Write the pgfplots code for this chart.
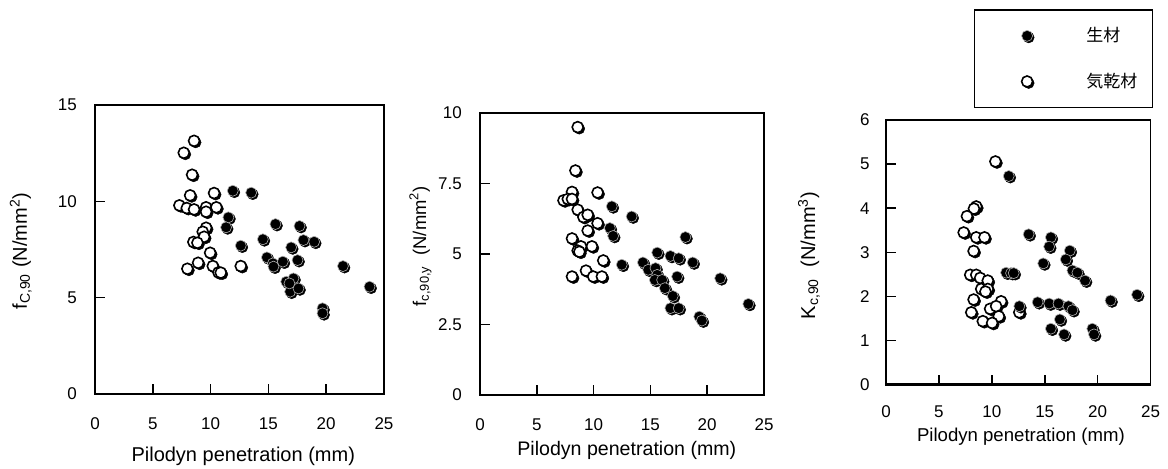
\documentclass[border=0pt]{standalone}
\usepackage{fontspec}
\setmainfont{Liberation Sans}
\newfontfamily\jp{Noto Sans CJK JP}
\usepackage{pgfplots}
\usepackage{pgfplotstable}
\pgfplotsset{compat=1.18}

% panel 1: f_C,90
\pgfplotstableread{
x y
8.57 13.14
7.68 12.52
8.40 11.38
8.23 10.31
10.30 10.43
7.30 9.79
7.94 9.65
8.57 9.58
9.61 9.69
10.50 9.69
9.61 9.46
9.61 8.63
9.32 8.42
9.44 8.16
8.51 7.89
8.86 7.85
9.96 7.33
7.99 6.50
8.92 6.81
10.19 6.64
10.68 6.31
10.88 6.30
12.61 6.64
}\fcOpen
\pgfplotstableread{
x y
11.92 10.55
13.51 10.45
11.54 9.17
11.34 8.65
12.61 7.70
15.61 8.82
17.69 8.72
14.52 8.03
16.97 7.61
18.03 7.99
18.96 7.90
14.87 7.09
15.39 6.78
15.44 6.61
16.25 6.87
17.52 6.95
21.45 6.64
16.54 5.83
17.17 6.00
16.88 5.31
17.60 5.48
16.82 5.74
19.68 4.45
19.68 4.19
23.75 5.57
}\fcFill

% panel 2: f_c,90,y
\pgfplotstableread{
x y
8.60 9.50
8.40 7.96
8.10 7.20
10.35 7.18
7.35 6.90
7.73 6.95
8.10 6.95
8.60 6.57
9.10 6.31
9.48 6.39
10.35 6.09
9.48 5.83
8.10 5.55
9.85 5.27
8.89 5.27
8.60 5.12
8.75 5.08
10.85 4.77
9.33 4.41
8.10 4.20
9.97 4.20
10.73 4.20
}\fyOpen
\pgfplotstableread{
x y
11.60 6.69
13.35 6.33
11.43 5.92
11.72 5.64
12.48 4.62
18.08 5.60
15.60 5.05
16.76 4.93
17.49 4.85
18.72 4.70
14.34 4.70
14.81 4.44
15.45 4.50
15.60 4.26
15.39 4.08
16.03 4.08
16.27 3.79
17.35 4.20
16.97 3.51
16.76 3.08
17.49 3.08
21.14 4.14
19.30 2.78
19.53 2.64
23.62 3.23
}\fyFill

% panel 3: K_c,90
\pgfplotstableread{
x y
10.34 5.06
8.53 4.04
8.31 3.99
7.65 3.82
7.34 3.45
8.53 3.34
9.31 3.34
8.28 3.03
7.96 2.49
8.53 2.49
8.90 2.42
9.62 2.36
9.00 2.17
9.62 2.17
9.40 2.11
8.28 1.93
10.88 1.89
9.84 1.72
10.41 1.78
8.06 1.64
10.66 1.55
9.15 1.44
10.03 1.40
12.60 1.64
}\kOpen
\pgfplotstableread{
x y
11.60 4.73
13.48 3.41
15.58 3.34
15.42 3.13
17.37 3.04
16.99 2.84
14.86 2.75
17.62 2.59
18.09 2.54
18.81 2.36
11.35 2.54
11.82 2.53
12.07 2.53
12.60 1.78
14.33 1.87
15.42 1.84
16.30 1.84
17.24 1.78
17.62 1.69
16.43 1.48
15.58 1.27
16.83 1.14
19.50 1.27
19.66 1.14
21.22 1.91
23.73 2.04
}\kFill

\pgfplotsset{
  panel/.style={
    scale only axis, anchor=south west,
    xmin=0, xmax=25, xtick={0,5,...,25},
    tick align=inside, tick pos=left,
    major tick length=5pt,
    major tick style={line width=0.8pt, black},
    axis line style={line width=0.8pt},
    /pgf/number format/assume math mode=true,
    tick label style={font=\fontsize{8.5}{10}\selectfont},
    after end axis/.code={\draw[line width=1.4pt] (rel axis cs:0,1) -- (rel axis cs:0,0) -- (rel axis cs:1,0);},
  },
  lgimg/.style={legend image code/.code={
    \path[draw=none, fill=none] (0pt,-11.4pt) (55.8pt,11.4pt);
    \draw[##1, mark options={fill=black, draw=black, line width=0.2pt, xshift=0.8pt, yshift=-0.8pt}] plot coordinates {(26.2pt,0pt)};
    \draw[##1] plot coordinates {(26.2pt,0pt)};
  }},
  shade/.style={only marks, mark=*, mark size=2.75pt, forget plot,
    mark options={fill=black, draw=black, line width=0.2pt, xshift=0.8pt, yshift=-0.8pt}},
  opn/.style={only marks, mark=*, mark size=2.75pt, lgimg,
    mark options={fill=white, draw=black, line width=0.8pt}},
  fil/.style={only marks, mark=*, mark size=2.75pt, lgimg,
    mark options={fill=black, draw=gray!60, line width=0.3pt}},
}

\begin{document}
\begin{tikzpicture}
\path[use as bounding box] (0,0) rectangle (584pt,234pt);

\begin{axis}[panel,
  at={(47.5pt,37pt)}, width=144.5pt, height=144.5pt,
  ymin=0, ymax=15, ytick={0,5,10,15},
  xticklabel style={yshift=-8.2pt},
  yticklabel style={xshift=-5.6pt},
  xlabel={Pilodyn penetration (mm)},
  ylabel={f\textsubscript{C,90} (N/mm\textsuperscript{2})},
  every axis x label/.style={at={(axis description cs:0.513,-0.2145)}, anchor=center, font=\fontsize{10}{12}\selectfont},
  every axis y label/.style={at={(axis description cs:-0.236,0.495)}, rotate=90, anchor=base, font=\fontsize{10}{12}\selectfont},
]
  \addplot[shade] table {\fcOpen};
  \addplot[opn] table {\fcOpen};
  \addplot[shade] table {\fcFill};
  \addplot[fil] table {\fcFill};
\end{axis}

\begin{axis}[panel,
  at={(240pt,36.5pt)}, width=142pt, height=141pt,
  ymin=0, ymax=10, ytick={0,2.5,5,7.5,10},
  xticklabel style={yshift=-8.2pt},
  yticklabel style={xshift=-5.6pt},
  xlabel={Pilodyn penetration (mm)},
  ylabel={f\textsubscript{c,90,y}\ \ (N/mm\textsuperscript{2})},
  every axis x label/.style={at={(axis description cs:0.517,-0.196)}, anchor=center, font=\fontsize{9.8}{12}\selectfont},
  every axis y label/.style={at={(axis description cs:-0.19,0.528)}, rotate=90, anchor=base, font=\fontsize{9.2}{11}\selectfont},
]
  \addplot[shade] table {\fyOpen};
  \addplot[opn] table {\fyOpen};
  \addplot[shade] table {\fyFill};
  \addplot[fil] table {\fyFill};
\end{axis}

\begin{axis}[panel,
  at={(443pt,41.65pt)}, width=132.25pt, height=132.35pt,
  ymin=0, ymax=6, ytick={0,1,...,6},
  xticklabel style={yshift=-7pt},
  yticklabel style={xshift=-4.7pt},
  xlabel={Pilodyn penetration (mm)},
  ylabel={K\textsubscript{c,90}\ \ (N/mm\textsuperscript{3})},
  every axis x label/.style={at={(axis description cs:0.51,-0.196)}, anchor=center, font=\fontsize{9.3}{11}\selectfont},
  every axis y label/.style={at={(axis description cs:-0.268,0.488)}, rotate=90, anchor=base, font=\fontsize{10}{12}\selectfont},
  reverse legend,
  legend style={at={(axis description cs:1.011,1.418)}, anchor=north east,
    draw=black, line width=0.7pt, inner xsep=0pt, inner ysep=1.5pt,
    nodes={inner sep=0pt, draw=none, font=\fontsize{8.5}{10}\selectfont\jp},
    cells={anchor=west}},
]
  \addplot[shade] table {\kOpen};
  \addplot[opn] table {\kOpen};
  \addlegendentry{気乾材\hspace*{7.7pt}}
  \addplot[shade] table {\kFill};
  \addplot[fil] table {\kFill};
  \addlegendentry{生材}
\end{axis}
\end{tikzpicture}
\end{document}
